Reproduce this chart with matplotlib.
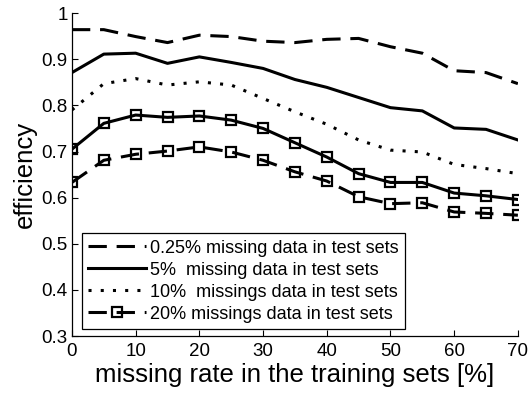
import numpy as np
import matplotlib
matplotlib.use("Agg")
import matplotlib.pyplot as plt

plt.rcParams['font.family'] = ['Liberation Sans', 'DejaVu Sans']

# missing rate in the training sets [%]
rate = [0, 5, 10, 15, 20, 25, 30, 35, 40, 45, 50, 55, 60, 65, 70]

# efficiency for each test-set missing level
eff_025 = [0.964, 0.964, 0.949, 0.936, 0.952, 0.949, 0.939, 0.936, 0.943,
           0.945, 0.927, 0.913, 0.875, 0.871, 0.847]
eff_5 = [0.871, 0.911, 0.913, 0.891, 0.905, 0.893, 0.880, 0.856, 0.839,
         0.817, 0.795, 0.788, 0.751, 0.748, 0.725]
eff_10 = [0.790, 0.847, 0.858, 0.844, 0.851, 0.844, 0.815, 0.786, 0.759,
          0.725, 0.703, 0.699, 0.672, 0.663, 0.652]
eff_sq_solid = [0.705, 0.761, 0.779, 0.774, 0.777, 0.768, 0.750, 0.719, 0.688,
                0.652, 0.633, 0.633, 0.610, 0.604, 0.596]
eff_20 = [0.633, 0.681, 0.694, 0.701, 0.710, 0.699, 0.681, 0.656, 0.636,
          0.602, 0.587, 0.589, 0.569, 0.566, 0.562]

labels = ['0.25% missing data in test sets',
          '5%  missing data in test sets',
          '10%  missings data in test sets',
          '20% missings data in test sets']

xticks = [0, 10, 20, 30, 40, 50, 60, 70]
yticks = [0.3, 0.4, 0.5, 0.6, 0.7, 0.8, 0.9, 1.0]
ytick_labels = ['0.3', '0.4', '0.5', '0.6', '0.7', '0.8', '0.9', '1']

fig = plt.figure(figsize=(5.29, 3.95), dpi=100)
ax = fig.add_axes([0.136, 0.149, 0.843, 0.818])

lw = 2.2
dash = (0, (6, 3.2))
h1, = ax.plot(rate, eff_025, color='k', lw=lw, linestyle=dash, label=labels[0])
h2, = ax.plot(rate, eff_5, color='k', lw=lw, linestyle='-', label=labels[1])
h3, = ax.plot(rate, eff_10, color='k', lw=lw, linestyle=(0, (1, 3)),
              label=labels[2])
ax.plot(rate, eff_sq_solid, color='k', lw=lw, linestyle='-', marker='s',
        markersize=7.5, markerfacecolor='none', markeredgewidth=1.6)
h4, = ax.plot(rate, eff_20, color='k', lw=lw, linestyle=dash, marker='s',
              markersize=7.5, markerfacecolor='none', markeredgewidth=1.6,
              label=labels[3])

ax.set_xlim(0, 70)
ax.set_ylim(0.3, 1.0)
ax.set_xticks(xticks)
ax.set_yticks(yticks)
ax.set_yticklabels(ytick_labels)
ax.tick_params(direction='in', length=4, width=0.8, labelsize=13.5)
ax.tick_params(axis='x', pad=5)
ax.tick_params(axis='y', pad=3)
for side in ['top', 'right']:
    ax.spines[side].set_visible(False)
for side in ['left', 'bottom']:
    ax.spines[side].set_linewidth(0.9)

ax.set_xlabel('missing rate in the training sets [%]', fontsize=18.5,
              labelpad=2)
ax.set_ylabel('efficiency', fontsize=18.5, labelpad=3)

leg = ax.legend(handles=[h1, h2, h3, h4], loc='lower left',
                bbox_to_anchor=(0.022, 0.022), borderaxespad=0,
                fontsize=13, handlelength=3.2, handletextpad=0.25,
                labelspacing=0.28, numpoints=1, fancybox=False,
                framealpha=1, edgecolor='k', borderpad=0.35)
leg.get_frame().set_linewidth(0.9)

fig.savefig('out.png', dpi=100)
